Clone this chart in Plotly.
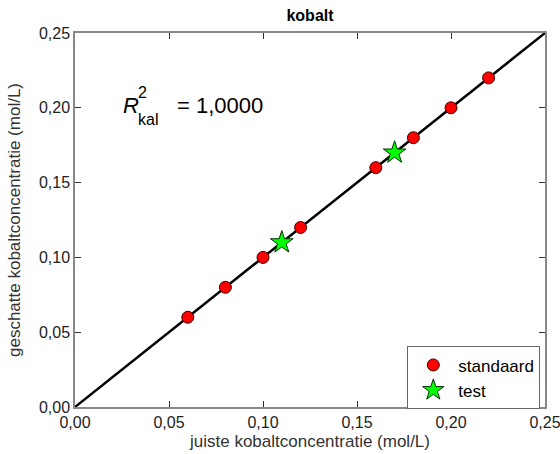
import plotly.graph_objects as go

# calibration standards and test samples (mol/L)
std_true = [0.06, 0.08, 0.10, 0.12, 0.16, 0.18, 0.20, 0.22]
std_est = [0.06, 0.08, 0.10, 0.12, 0.16, 0.18, 0.20, 0.22]
test_true = [0.11, 0.17]
test_est = [0.11, 0.17]
line_x = [0.0, 0.25]
line_y = [0.0, 0.25]
tick_vals = [0.00, 0.05, 0.10, 0.15, 0.20, 0.25]
tick_text = ["0,00", "0,05", "0,10", "0,15", "0,20", "0,25"]
r2_text = "= 1,0000"

font = "Liberation Sans, Arial, sans-serif"

fig = go.Figure()
fig.add_trace(go.Scatter(x=line_x, y=line_y, mode="lines",
                         line=dict(color="black", width=2.5),
                         showlegend=False, hoverinfo="skip"))
fig.add_trace(go.Scatter(x=std_true, y=std_est, mode="markers", name="standaard",
                         marker=dict(symbol="circle", size=12, color="#ff0000",
                                     line=dict(color="#400000", width=1))))
fig.add_trace(go.Scatter(x=test_true, y=test_est, mode="markers", name="test",
                         marker=dict(symbol="star", size=17, color="#00ff00",
                                     line=dict(color="#003000", width=1))))

axis_common = dict(
    range=[0, 0.25], tickvals=tick_vals, ticktext=tick_text,
    ticks="inside", ticklen=6, tickcolor="#333333", tickwidth=1,
    showline=True, linecolor="#888888", linewidth=1.5, mirror="allticks",
    showgrid=False, zeroline=False, automargin=False,
    ticklabeloverflow="allow",
    tickfont=dict(family=font, size=16, color="#222222"),
)

fig.update_layout(
    width=560, height=454,
    margin=dict(l=75, r=15, t=33, b=47),
    plot_bgcolor="white", paper_bgcolor="white",
    title=dict(text="<b>kobalt</b>", xref="paper", x=0.5, xanchor="center",
               y=0.965, yanchor="middle",
               font=dict(family=font, size=16, color="black")),
    xaxis=dict(**axis_common,
               title=dict(text="juiste kobaltconcentratie (mol/L)", standoff=5,
                          font=dict(family=font, size=17, color="#333333"))),
    yaxis=dict(**axis_common,
               title=dict(text="geschatte kobaltconcentratie (mol/L)", standoff=14,
                          font=dict(family=font, size=17, color="#333333"))),
    legend=dict(x=0.99, y=0.162, xanchor="right", yanchor="top",
                bordercolor="#666666", borderwidth=1, bgcolor="white",
                font=dict(family=font, size=17, color="black"),
                tracegroupgap=0, itemwidth=40),
    showlegend=True,
)

# R² with superscript and subscript stacked, followed by its value
ann_font = dict(family=font, size=22, color="black")
fig.add_annotation(x=0.0245, y=0.2015, xref="x", yref="y", xanchor="left", yanchor="middle",
                   showarrow=False, text="<i>R</i>", font=ann_font)
fig.add_annotation(x=0.0325, y=0.2105, xref="x", yref="y", xanchor="left", yanchor="middle",
                   showarrow=False, text="2", font=dict(family=font, size=16, color="black"))
fig.add_annotation(x=0.0325, y=0.1925, xref="x", yref="y", xanchor="left", yanchor="middle",
                   showarrow=False, text="kal", font=dict(family=font, size=16, color="black"))
fig.add_annotation(x=0.053, y=0.2015, xref="x", yref="y", xanchor="left", yanchor="middle",
                   showarrow=False, text=r2_text, font=ann_font)

fig.write_html("out.html")
